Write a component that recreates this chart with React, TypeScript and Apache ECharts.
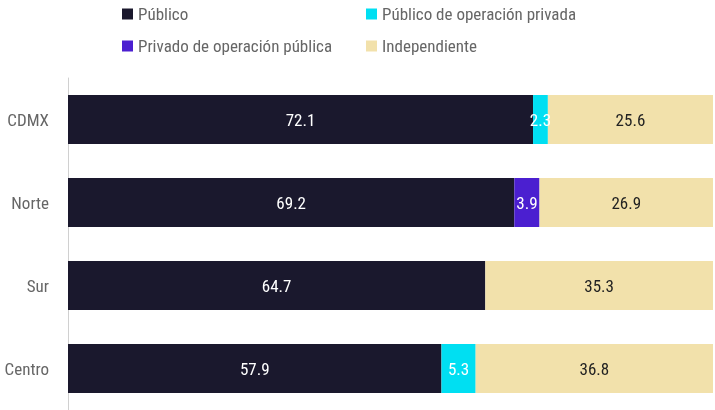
import React, { useEffect, useRef } from "react";
import * as echarts from "echarts";

const categories = ["CDMX", "Norte", "Sur", "Centro"];
const publico = [72.1, 69.2, 64.7, 57.9];
const publicoOpPrivada = [2.3, null, null, 5.3];
const privadoOpPublica = [null, 3.9, null, null];
const independiente = [25.6, 26.9, 35.3, 36.8];

const FONT = "'Roboto Condensed', 'Liberation Sans Narrow', 'DejaVu Sans Condensed', Roboto, sans-serif";

export default function App() {
  const ref = useRef<HTMLDivElement>(null);
  useEffect(() => {
    if (!ref.current) return;
    const chart = echarts.init(ref.current, null, { renderer: "svg" });
    const label = (color: string) => ({
      show: true,
      position: "inside",
      color,
      fontSize: 17,
      fontFamily: FONT,
      formatter: (p: any) => (p.value == null ? "" : Number(p.value).toFixed(1)),
    });
    const legendText = { color: "#666", fontSize: 17, fontFamily: FONT, lineHeight: 18 };
    chart.setOption({
      animation: false,
      textStyle: { fontFamily: FONT },
      legend: [
        {
          orient: "vertical",
          left: 117,
          top: 0,
          itemWidth: 11,
          itemHeight: 11,
          itemGap: 14,
          icon: "rect",
          textStyle: legendText,
          data: ["Público", "Privado de operación pública"],
        },
        {
          orient: "vertical",
          left: 361,
          top: 0,
          itemWidth: 11,
          itemHeight: 11,
          itemGap: 14,
          icon: "rect",
          textStyle: legendText,
          data: ["Público de operación privada", "Independiente"],
        },
      ],
      grid: { left: 68, top: 78, width: 645, height: 335, containLabel: false },
      xAxis: { type: "value", min: 0, max: 100, show: false },
      yAxis: {
        type: "category",
        inverse: true,
        data: categories,
        axisLine: { show: true, lineStyle: { color: "#d0d0d0", width: 1 } },
        axisTick: { show: false },
        axisLabel: { color: "#666", fontSize: 17, fontFamily: FONT, margin: 19 },
      },
      series: [
        { name: "Público", type: "bar", stack: "t", barWidth: 49, data: publico, itemStyle: { color: "#1a182d" }, label: label("#fff") },
        { name: "Público de operación privada", type: "bar", stack: "t", barWidth: 49, data: publicoOpPrivada, itemStyle: { color: "#00dff2" }, label: label("#fff") },
        { name: "Privado de operación pública", type: "bar", stack: "t", barWidth: 49, data: privadoOpPublica, itemStyle: { color: "#4b1fd0" }, label: label("#fff") },
        { name: "Independiente", type: "bar", stack: "t", barWidth: 49, data: independiente, itemStyle: { color: "#f2e1ab" }, label: label("#222") },
      ],
    });
    return () => chart.dispose();
  }, []);
  return <div ref={ref} style={{ position: "fixed", left: 0, top: 0, width: 715, height: 410 }} />;
}
